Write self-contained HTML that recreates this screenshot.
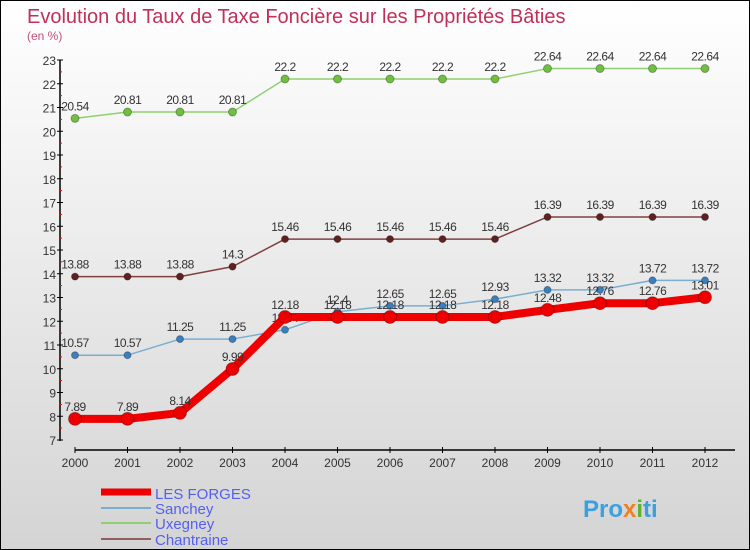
<!DOCTYPE html>
<html><head><meta charset="utf-8"><style>
body{margin:0;width:750px;height:550px;overflow:hidden;font-family:"Liberation Sans",sans-serif}
#c{position:absolute;left:0;top:0;width:748px;height:548px;border:1px solid #000;background:linear-gradient(#fff,#d4d4d4)}
</style></head><body>
<div id="c">
<svg id="s" width="750" height="550" style="position:absolute;left:-1px;top:-1px">
<text x="27" y="23" font-size="20" fill="#c0305a">Evolution du Taux de Taxe Foncière sur les Propriétés Bâties</text>
<text x="27" y="40" font-size="12" fill="#c0507a">(en %)</text>
<g id="ax"></g><g id="ser"></g>
<g>
<line x1="101" y1="492" x2="151" y2="492" stroke="#e00" stroke-width="7"/>
<text x="155" y="499" font-size="15" fill="#5560f0">LES FORGES</text>
<line x1="101" y1="508" x2="151" y2="508" stroke="#7aaed0" stroke-width="2"/>
<text x="155" y="514" font-size="15" fill="#5560f0">Sanchey</text>
<line x1="101" y1="523" x2="151" y2="523" stroke="#90d070" stroke-width="2"/>
<text x="155" y="529" font-size="15" fill="#5560f0">Uxegney</text>
<line x1="101" y1="539" x2="151" y2="539" stroke="#906060" stroke-width="2"/>
<text x="155" y="545" font-size="15" fill="#5560f0">Chantraine</text>
</g>
<text x="583" y="517" font-size="24" font-weight="bold" fill="#3aa0e0">Pro<tspan fill="#f08020">x</tspan><tspan fill="#60b030">i</tspan>ti</text>
</svg></div>
<script>
const years=[2000,2001,2002,2003,2004,2005,2006,2007,2008,2009,2010,2011,2012];
const yTicks=[7,8,9,10,11,12,13,14,15,16,17,18,19,20,21,22,23];
const lesForges=[7.89,7.89,8.14,9.99,12.18,12.18,12.18,12.18,12.18,12.48,12.76,12.76,13.01];
const sanchey=[10.57,10.57,11.25,11.25,11.64,12.4,12.65,12.65,12.93,13.32,13.32,13.72,13.72];
const uxegney=[20.54,20.81,20.81,20.81,22.2,22.2,22.2,22.2,22.2,22.64,22.64,22.64,22.64];
const chantraine=[13.88,13.88,13.88,14.3,15.46,15.46,15.46,15.46,15.46,16.39,16.39,16.39,16.39];
const NS="http://www.w3.org/2000/svg";
const X=i=>75+i*52.5, Y=v=>440-(v-7)*23.75;
function mk(p,t,a){const e=document.createElementNS(NS,t);for(const k in a)e.setAttribute(k,a[k]);p.appendChild(e);return e;}
const ax=document.getElementById('ax'),ser=document.getElementById('ser');
let l=mk(ax,'line',{x1:60,y1:60,x2:60,y2:441,stroke:'#000','stroke-width':1.5});


yTicks.forEach(v=>{mk(ax,'line',{x1:57,x2:63,y1:Y(v),y2:Y(v),stroke:'#000'});
 if(v<23)mk(ax,'line',{x1:59,x2:62,y1:Y(v+0.5),y2:Y(v+0.5),stroke:'#e00'});
 const t=mk(ax,'text',{x:56,y:Y(v)+5,'font-size':12,'text-anchor':'end',fill:'#333'});t.textContent=v;
 
 });
l=mk(ax,'line',{x1:75,y1:450,x2:735,y2:450,stroke:'#000','stroke-width':1.5});


years.forEach((y,i)=>{mk(ax,'line',{x1:X(i),x2:X(i),y1:447,y2:453,stroke:'#000'});
 const t=mk(ax,'text',{x:X(i),y:467,'font-size':12,'text-anchor':'middle',fill:'#333'});t.textContent=y;
 
 });
function series(d,name,col,w,r,dot){
 const g=mk(ser,'g',{});
 
 
 mk(g,'polyline',{points:d.map((v,i)=>X(i)+','+Y(v)).join(' '),fill:'none',stroke:col,'stroke-width':w,'stroke-linejoin':'round'});
 d.forEach((v,i)=>{const c=mk(g,'circle',{cx:X(i),cy:Y(v),r:r,fill:dot,stroke:'rgba(0,0,0,0.3)'});
  
  
  const t=mk(g,'text',{x:X(i),y:Y(v)-8,'font-size':12,'text-anchor':'middle',fill:'#333','letter-spacing':'-0.5'});t.textContent=v;
  
  });
}
series(uxegney,'uxegney','#90d070',1.5,4,'#70c040');
series(chantraine,'chantraine','#804040',1.5,3.5,'#602020');
series(sanchey,'sanchey','#7aaed0',1.5,3.5,'#3a80c0');
series(lesForges,'les-forges','#e00',8,6.5,'#e00');
</script>
</body></html>
